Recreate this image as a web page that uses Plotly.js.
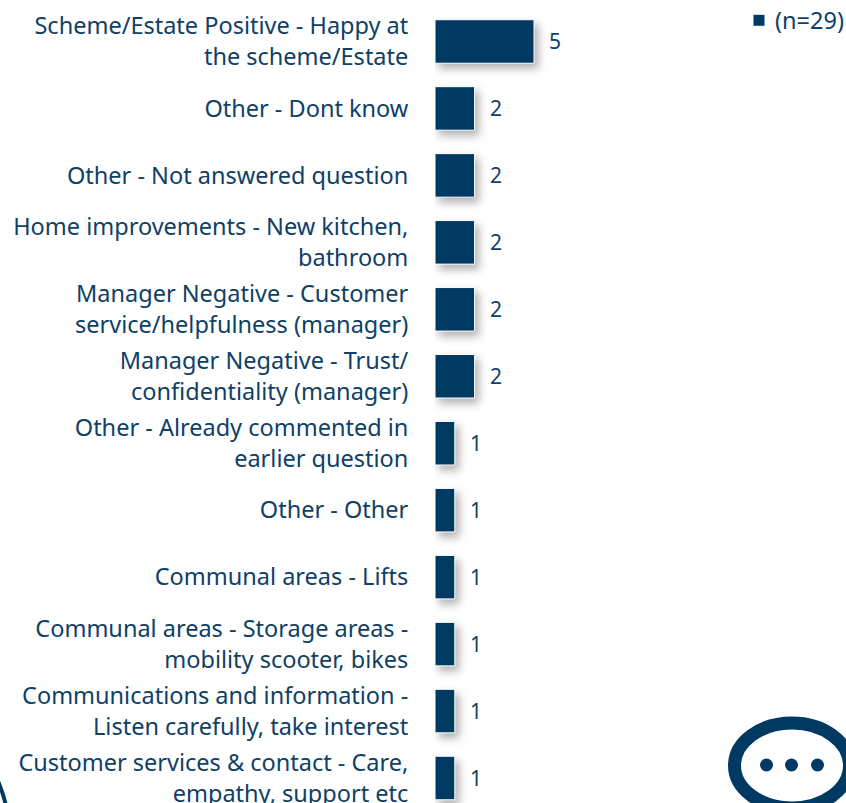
<!DOCTYPE html>
<html><head><meta charset="utf-8">
<script src="https://cdn.plot.ly/plotly-3.0.1.min.js"></script>
<style>html,body{margin:0;padding:0;background:#fff}
#c{width:846px;height:803px}
.barlayer .point path{filter:drop-shadow(4px 5px 4px rgba(0,0,0,.3))}
</style></head><body><div id="c"></div>
<script>
const categories=["Scheme/Estate Positive - Happy at<br>the scheme/Estate","Other - Dont know","Other - Not answered question","Home improvements - New kitchen,<br>bathroom","Manager Negative - Customer<br>service/helpfulness (manager)","Manager Negative - Trust/<br>confidentiality (manager)","Other - Already commented in<br>earlier question","Other - Other","Communal areas - Lifts","Communal areas - Storage areas -<br>mobility scooter, bikes","Communications and information -<br>Listen carefully, take interest","Customer services & contact - Care,<br>empathy, support etc"];
const values=[5,2,2,2,2,2,1,1,1,1,1,1];
const seriesName="(n=29)";
const NAVY="#003a63",TXT="#0f4066",FONT="'Noto Sans',sans-serif";
const W=846,H=803,L=435,T=7.5,PW=W-L,PH=H-T;
const px=x=>(x-L)/PW, py=y=>1-(y-T)/PH;
const ann=values.map((v,i)=>({x:v,y:categories[i],xref:'x',yref:'y',text:String(v),showarrow:false,xanchor:'left',xshift:13,yshift:0,font:{family:FONT,size:21,color:TXT}}));
const ell=(x0,y0,x1,y1,extra)=>Object.assign({type:'circle',xref:'paper',yref:'paper',x0:px(x0),x1:px(x1),y0:py(y1),y1:py(y0)},extra);
const shapes=[
 ell(734.5,723,849.5,808,{line:{color:NAVY,width:13},fillcolor:'rgba(0,0,0,0)'}),
 ell(760,758.5,773,771.5,{line:{width:0},fillcolor:NAVY}),
 ell(785,758.5,798,771.5,{line:{width:0},fillcolor:NAVY}),
 ell(811,758.5,824,771.5,{line:{width:0},fillcolor:NAVY}),
 ell(-290,690,10,990,{line:{color:NAVY,width:4},fillcolor:'rgba(0,0,0,0)'})
];
Plotly.newPlot('c',[{type:'bar',orientation:'h',name:seriesName,x:values,y:categories,width:0.65,marker:{color:NAVY,line:{color:'#ffffff',width:1}},showlegend:true,hoverinfo:'skip'}],{
 width:W,height:H,margin:{l:L,r:0,t:T,b:0,pad:0,autoexpand:false},paper_bgcolor:'#fff',plot_bgcolor:'rgba(0,0,0,0)',
 font:{family:FONT,color:TXT,size:23.5},
 xaxis:{range:[0,PW/19.8],visible:false,fixedrange:true},
 yaxis:{type:'category',range:[PH/67-(41-T)/67,-(41-T)/67],showline:false,showgrid:false,zeroline:false,ticks:'outside',ticklen:21,tickwidth:0,tickcolor:'rgba(0,0,0,0)',automargin:false,tickfont:{family:FONT,size:23.5,color:TXT},fixedrange:true},
 legend:{x:px(739),xanchor:'left',y:py(-2),yanchor:'top',font:{family:FONT,size:23.5,color:TXT},bgcolor:'rgba(0,0,0,0)',itemwidth:30},
 annotations:ann,shapes:shapes
},{displayModeBar:false,staticPlot:true}).then(()=>{
 document.querySelectorAll('.legendtext').forEach(t=>t.setAttribute('x',+t.getAttribute('x')-4));
});
</script></body></html>
